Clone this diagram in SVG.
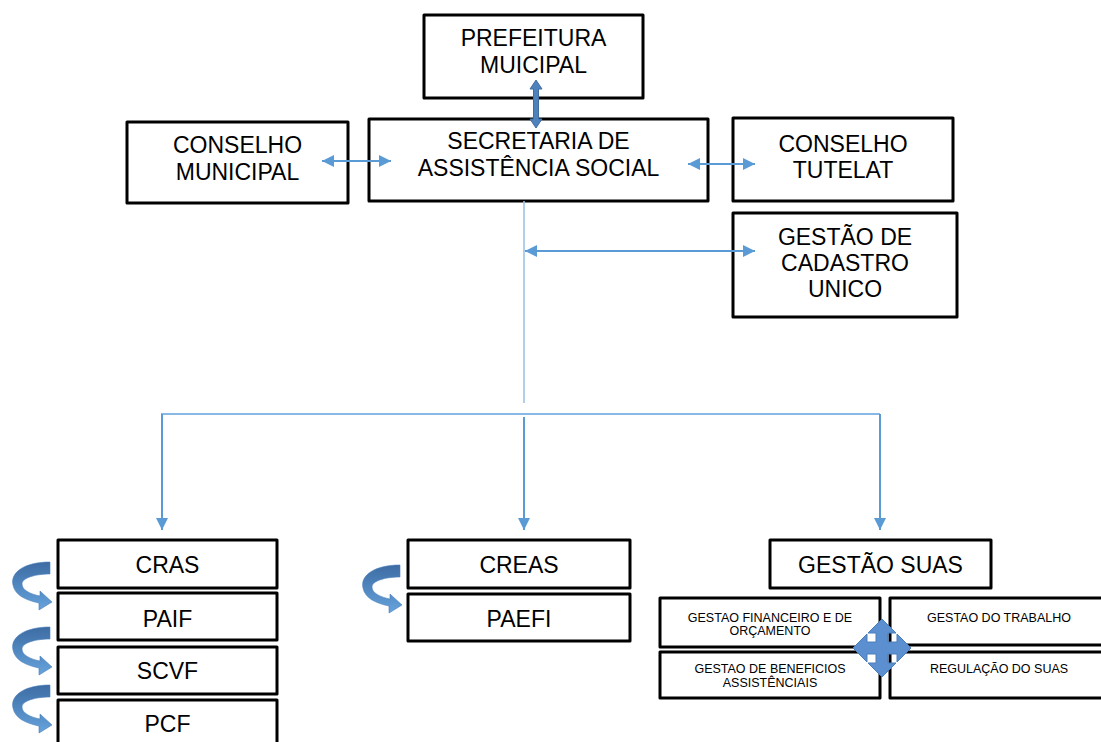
<svg xmlns="http://www.w3.org/2000/svg" width="1101" height="742" viewBox="0 0 1101 742">
<style>
.box{fill:#fff;stroke:#000;stroke-width:3;stroke-linejoin:round}
.t{font-family:"Liberation Sans",Arial,sans-serif;font-size:23px;fill:#000;text-anchor:middle}
.s{font-family:"Liberation Sans",Arial,sans-serif;font-size:12.5px;fill:#000;text-anchor:middle}
.c{fill:none;stroke:#5b9bd5;stroke-width:2}
.lt{fill:none;stroke:#9dc3e6;stroke-width:1.6}
.h{fill:none;stroke:#8ab8e4;stroke-width:2}
.curl{fill:url(#cg);stroke:#4a7ebb;stroke-width:0.6}
</style>
<defs>
<marker id="ah" viewBox="0 0 12 12" refX="12" refY="6" markerWidth="12" markerHeight="12" markerUnits="userSpaceOnUse" orient="auto-start-reverse">
<path d="M0,0 L12,6 L0,12 Z" fill="#5b9bd5"/>
</marker>
<linearGradient id="cg" x1="0" y1="0" x2="0" y2="1">
<stop offset="0" stop-color="#3d6ca3"/>
<stop offset="1" stop-color="#66a3dd"/>
</linearGradient>
<path id="curl" d="M50 562 C25 562 10 572 13 585 C15 595 25 600 39 603 L39 610 L52 602 L40 591 L40 596 C30 594 22 590 22 584 C22 578 35 574 50 574 Z"/>
</defs>

<g id="prefeitura">
<rect class="box" x="424" y="15" width="219" height="83"/>
<text class="t" x="533.5" y="46">PREFEITURA</text>
<text class="t" x="533.5" y="73">MUICIPAL</text>
</g>
<g id="secretaria">
<rect class="box" x="369" y="119" width="339" height="82"/>
<text class="t" x="538.5" y="149">SECRETARIA DE</text>
<text class="t" x="538.5" y="176">ASSISTÊNCIA SOCIAL</text>
</g>
<g id="conselho-municipal">
<rect class="box" x="127" y="122" width="221" height="81"/>
<text class="t" x="237.5" y="153">CONSELHO</text>
<text class="t" x="237.5" y="180">MUNICIPAL</text>
</g>
<g id="conselho-tutelat">
<rect class="box" x="733" y="118" width="220" height="83"/>
<text class="t" x="843" y="152">CONSELHO</text>
<text class="t" x="843" y="178">TUTELAT</text>
</g>
<g id="cadastro">
<rect class="box" x="733" y="213" width="224" height="104"/>
<text class="t" x="845" y="245">GESTÃO DE</text>
<text class="t" x="845" y="271">CADASTRO</text>
<text class="t" x="845" y="297">UNICO</text>
</g>

<g id="cras">
<rect class="box" x="58" y="540" width="219" height="48"/>
<text class="t" x="167.5" y="573">CRAS</text>
</g>
<g id="paif">
<rect class="box" x="58" y="593" width="219" height="47"/>
<text class="t" x="167.5" y="627">PAIF</text>
</g>
<g id="scvf">
<rect class="box" x="58" y="647" width="219" height="47"/>
<text class="t" x="167.5" y="679">SCVF</text>
</g>
<g id="pcf">
<rect class="box" x="58" y="700" width="219" height="50"/>
<text class="t" x="167.5" y="732">PCF</text>
</g>

<g id="creas">
<rect class="box" x="408" y="540" width="222" height="48"/>
<text class="t" x="519" y="573">CREAS</text>
</g>
<g id="paefi">
<rect class="box" x="408" y="594" width="222" height="47"/>
<text class="t" x="519" y="627">PAEFI</text>
</g>

<g id="gestao-suas">
<rect class="box" x="770" y="540" width="221" height="48"/>
<text class="t" x="880.5" y="573">GESTÃO SUAS</text>
</g>
<g id="gestao-financeiro">
<rect class="box" x="660" y="598" width="220" height="49"/>
<text class="s" x="770" y="622">GESTAO FINANCEIRO E DE</text>
<text class="s" x="770" y="635">ORÇAMENTO</text>
</g>
<g id="gestao-trabalho">
<rect class="box" x="890" y="598" width="220" height="47"/>
<text class="s" x="999" y="622">GESTAO DO TRABALHO</text>
</g>
<g id="gestao-beneficios">
<rect class="box" x="660" y="652" width="220" height="46"/>
<text class="s" x="770" y="673">GESTAO DE BENEFICIOS</text>
<text class="s" x="770" y="687">ASSISTÊNCIAIS</text>
</g>
<g id="regulacao">
<rect class="box" x="890" y="652" width="220" height="46"/>
<text class="s" x="999" y="673">REGULAÇÃO DO SUAS</text>
</g>

<g id="connectors">
<polygon points="536,80 542,89 538.5,89 538.5,119 542,119 536,128 530,119 533.5,119 533.5,89 530,89" fill="#4f81bd" stroke="#3e6ea0" stroke-width="1"/>
<line class="c" x1="322" y1="161" x2="391" y2="161" marker-start="url(#ah)" marker-end="url(#ah)"/>
<line class="c" x1="688" y1="164" x2="755" y2="164" marker-start="url(#ah)" marker-end="url(#ah)"/>
<line class="lt" x1="524" y1="201" x2="524" y2="403"/>
<line class="c" x1="525" y1="251" x2="755" y2="251" marker-start="url(#ah)" marker-end="url(#ah)"/>
<polyline class="h" points="162,530 162,414 880,414"/>
<line class="c" x1="162" y1="414" x2="162" y2="530" marker-end="url(#ah)"/>
<line class="c" x1="524" y1="417" x2="524" y2="530" marker-end="url(#ah)"/>
<line class="c" x1="880" y1="414" x2="880" y2="530" marker-end="url(#ah)"/>
<use href="#curl" class="curl"/>
<use href="#curl" class="curl" transform="translate(0,65)"/>
<use href="#curl" class="curl" transform="translate(0,123)"/>
<use href="#curl" class="curl" transform="translate(350,3)"/>
</g>

<g id="quad-arrow">
<polygon points="882,619 896,633 888,633 888,642 897,642 897,634 911,648 897,662 897,654 888,654 888,663 896,663 882,677 868,663 876,663 876,654 867,654 867,662 853,648 867,634 867,642 876,642 876,633 868,633" fill="#5b8fcf" stroke="#4a7ebb" stroke-width="1"/>
</g>
</svg>
